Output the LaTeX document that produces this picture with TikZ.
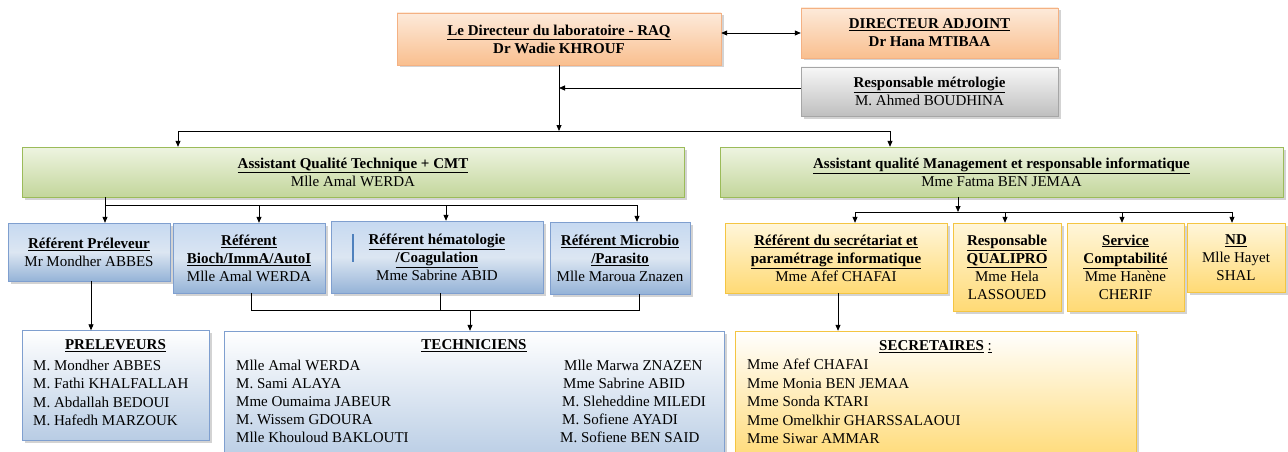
\documentclass[tikz,border=0pt]{standalone}
\usepackage{fontspec}
\setmainfont{Liberation Serif}
\usetikzlibrary{arrows.meta,shadows}
\definecolor{orT}{HTML}{FDEADA}\definecolor{orB}{HTML}{F9BF8F}\definecolor{orD}{HTML}{F4B183}
\definecolor{grT}{HTML}{F7F7F7}\definecolor{grB}{HTML}{BFBFBF}\definecolor{grD}{HTML}{A6A6A6}
\definecolor{gnT}{HTML}{EEF4E1}\definecolor{gnB}{HTML}{C3D69B}\definecolor{gnD}{HTML}{9BBB59}
\definecolor{blT}{HTML}{C6D9F1}\definecolor{blM}{HTML}{DCE6F2}\definecolor{blB}{HTML}{95B3D7}\definecolor{blD}{HTML}{7F9FCF}
\definecolor{ylT}{HTML}{FFF6DA}\definecolor{ylB}{HTML}{FFDA75}\definecolor{ylD}{HTML}{F4C542}
\definecolor{lbB}{HTML}{B8CCE4}\definecolor{cursor}{HTML}{4F81BD}
\newcommand\fsz{\fontsize{15}{18}\selectfont}
\newcommand\ttl[1]{\textbf{\underline{#1}}}
\begin{document}
\begin{tikzpicture}[x=1pt,y=-1pt,
  box/.style={draw, rectangle, inner sep=0pt, align=center, font=\fsz,
    drop shadow={shadow xshift=2.5pt,shadow yshift=-2.5pt,opacity=0.35}},
  orbox/.style={box, draw=orD, top color=orT, bottom color=orB},
  gybox/.style={box, draw=grD, top color=grT, bottom color=grB},
  gnbox/.style={box, draw=gnD, top color=gnT, bottom color=gnB},
  blbox/.style={box, draw=blD, top color=blT, bottom color=blB, middle color=blM},
  lbbox/.style={box, draw=blD, top color=white, bottom color=lbB},
  ylbox/.style={box, draw=ylD, top color=ylT, bottom color=ylB},
  sybox/.style={box, draw=ylD, top color=white, bottom color=ylB},
  txt/.style={inner sep=0pt, font=\fsz, align=center},
  item/.style={inner sep=0pt, font=\fsz, anchor=base west},
  conn/.style={draw=black, line width=0.8pt},
  arr/.style={conn, -{Triangle[length=6pt,width=5pt]}},
  darr/.style={conn, {Triangle[length=6pt,width=5pt]}-{Triangle[length=6pt,width=5pt]}}]
\useasboundingbox (0,0) rectangle (1288,452);

% top level
\node[orbox, minimum width=324, minimum height=52] (dir) at (559,39)
  {\ttl{Le Directeur du laboratoire - RAQ}\\\textbf{Dr Wadie KHROUF}};
\node[orbox, minimum width=257, minimum height=50] (adj) at (929.5,33)
  {\ttl{DIRECTEUR ADJOINT}\\\textbf{Dr Hana MTIBAA}};
\node[gybox, minimum width=257, minimum height=49] (met) at (929.5,91.5)
  {\ttl{Responsable métrologie}\\M. Ahmed BOUDHINA};

% assistants
\node[gnbox, minimum width=662, minimum height=50] (gl) at (353,172)
  {\ttl{Assistant Qualité Technique + CMT}\\Mlle Amal WERDA};
\node[gnbox, minimum width=563, minimum height=50] (gr) at (1001.5,172)
  {\ttl{Assistant qualité Management et responsable informatique}\\Mme Fatma BEN JEMAA};

% referents left
\node[blbox, minimum width=162, minimum height=58] (b1) at (89,252)
  {\ttl{Référent Préleveur}\\Mr Mondher ABBES};
\node[blbox, minimum width=152, minimum height=70] (b2) at (249,258)
  {\ttl{Référent}\\\ttl{Bioch/ImmA/AutoI}\\Mlle Amal WERDA};
\node[blbox, minimum width=212, minimum height=72] (b3) at (437,257)
  {\ttl{Référent hématologie}\\\ttl{/Coagulation}\\Mme Sabrine ABID};
\draw[cursor, line width=2pt] (353,234) -- (353,262);
\node[blbox, minimum width=140, minimum height=72] (b4) at (620,258)
  {\ttl{Référent Microbio}\\\ttl{/Parasito}\\Mlle Maroua Znazen};

% referents right
\node[ylbox, minimum width=222, minimum height=70] (y1) at (836,258)
  {\ttl{Référent du secrétariat et}\\\ttl{paramétrage informatique}\\Mme Afef CHAFAI};
\node[ylbox, minimum width=108, minimum height=88] (y2) at (1007,267)
  {\ttl{Responsable}\\\ttl{QUALIPRO}\\Mme Hela\\LASSOUED};
\node[ylbox, minimum width=117, minimum height=88] (y3) at (1125.5,267)
  {\ttl{Service}\\\ttl{Comptabilité}\\Mme Hanène\\CHERIF};
\node[ylbox, minimum width=98, minimum height=69] (y4) at (1236,257.5)
  {\ttl{ND}\\Mlle Hayet\\SHAL};

% bottom lists
\node[lbbox, minimum width=187, minimum height=110] (pre) at (115.5,385.5) {};
\node[txt] (pret) at (115.5,346) {\ttl{PRELEVEURS}};
\node[item] (p1) at (33,370) {M. Mondher ABBES};
\node[item] (p2) at (33,388.5) {M. Fathi KHALFALLAH};
\node[item] (p3) at (33,407) {M. Abdallah BEDOUI};
\node[item] (p4) at (33,425.5) {M. Hafedh MARZOUK};

\node[lbbox, minimum width=500, minimum height=130] (tec) at (474,396) {};
\node[txt] (tect) at (474,346) {\ttl{TECHNICIENS}};
\node[item] (t1) at (236,370) {Mlle Amal WERDA};
\node[item] (t2) at (236,388) {M. Sami ALAYA};
\node[item] (t3) at (236,406) {Mme Oumaima JABEUR};
\node[item] (t4) at (236,424) {M. Wissem GDOURA};
\node[item] (t5) at (236,442) {Mlle Khouloud BAKLOUTI};
\node[item] (t6) at (564,370) {Mlle Marwa ZNAZEN};
\node[item] (t7) at (563,388) {Mme Sabrine ABID};
\node[item] (t8) at (562,406) {M. Sleheddine MILEDI};
\node[item] (t9) at (562,424) {M. Sofiene AYADI};
\node[item] (t10) at (560,442) {M. Sofiene BEN SAID};

\node[sybox, minimum width=401, minimum height=130] (sec) at (935.5,396) {};
\node[txt] (sect) at (935.5,347) {\ttl{SECRETAIRES} \underline{:}};
\node[item] (s1) at (747,369.5) {Mme Afef CHAFAI};
\node[item] (s2) at (747,388) {Mme Monia BEN JEMAA};
\node[item] (s3) at (747,406.5) {Mme Sonda KTARI};
\node[item] (s4) at (747,425) {Mme Omelkhir GHARSSALAOUI};
\node[item] (s5) at (747,443.5) {Mme Siwar AMMAR};

% connectors top
\draw[darr] (dir.east |- adj.west) -- (adj.west);
\coordinate (j1) at (559,131);
\draw[arr] (dir.south) -- (j1);
\draw[arr] (met.west |- 0,88) -- (dir.south |- 0,88);
\coordinate (hL) at (178,131);
\coordinate (hR) at (890,131);
\draw[conn] (hL) -- (hR);
\draw[arr] (hL) -- (hL |- gl.north);
\draw[arr] (hR) -- (hR |- gr.north);

% left branching
\coordinate (lb1) at (105,205);
\coordinate (lb2) at (259,205);
\coordinate (lb3) at (446,205);
\coordinate (lb4) at (637,205);
\draw[conn] (lb1 |- gl.south) -- (lb1) -- (lb4);
\draw[arr] (lb1) -- (lb1 |- b1.north);
\draw[arr] (lb2) -- (lb2 |- b2.north);
\draw[arr] (lb3) -- (lb3 |- b3.north);
\draw[arr] (lb4) -- (lb4 |- b4.north);

% below left
\coordinate (c1) at (91,300);
\draw[arr] (c1 |- b1.south) -- (c1 |- pre.north);
\coordinate (m2) at (251,310);
\coordinate (m3) at (440,310);
\coordinate (m4) at (639,310);
\coordinate (mt) at (470,310);
\draw[conn] (m2 |- b2.south) -- (m2) -- (m4) -- (m4 |- b4.south);
\draw[conn] (m3 |- b3.south) -- (m3);
\draw[arr] (mt) -- (mt |- tec.north);

% right branching
\coordinate (rv) at (958,212);
\coordinate (r1) at (855,212);
\coordinate (r2) at (1005,212);
\coordinate (r3) at (1122,212);
\coordinate (r4) at (1232,212);
\draw[arr] (rv |- gr.south) -- (rv);
\draw[conn] (r1) -- (r4);
\draw[arr] (r1) -- (r1 |- y1.north);
\draw[arr] (r2) -- (r2 |- y2.north);
\draw[arr] (r3) -- (r3 |- y3.north);
\draw[arr] (r4) -- (r4 |- y4.north);

% secretariat
\coordinate (c2) at (838,300);
\draw[arr] (c2 |- y1.south) -- (c2 |- sec.north);
\end{tikzpicture}
\end{document}
